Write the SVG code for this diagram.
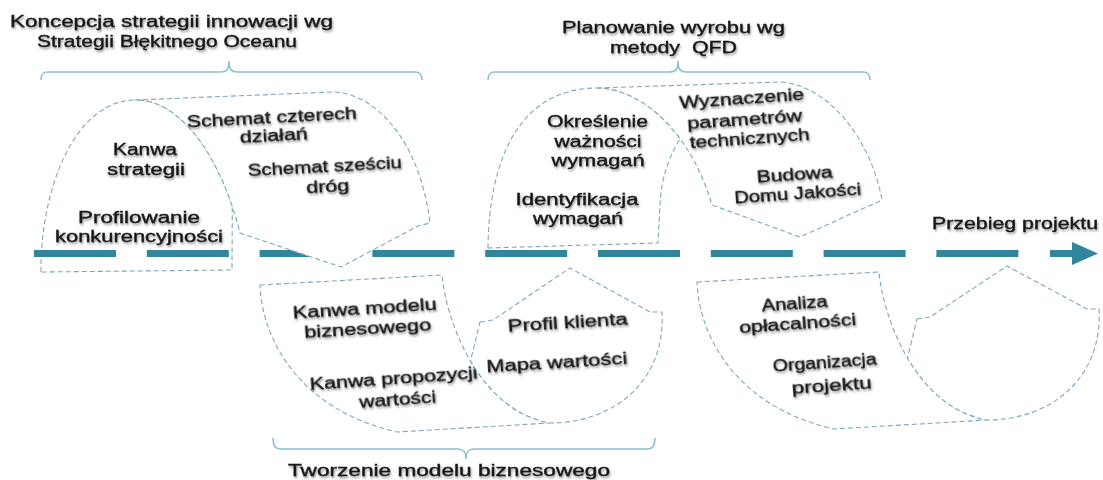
<svg xmlns="http://www.w3.org/2000/svg" width="1103" height="480" viewBox="0 0 1103 480">
<style>
.shape{fill:#fff;stroke:#7ea8ba;stroke-width:1.1;stroke-dasharray:5 3}
.brace{fill:none;stroke:#8cbfd3;stroke-width:1.6}
.axis{fill:none;stroke:#31859c;stroke-width:7;stroke-dasharray:82 30.8}
.head{fill:#31859c}
text{font-family:"Liberation Sans",Arial,sans-serif;font-size:16px;fill:#151515;stroke:#151515;stroke-width:0.35;text-anchor:middle;filter:url(#sh)}
</style>
<defs>
<filter id="sh" x="-10%" y="-40%" width="120%" height="180%">
<feGaussianBlur in="SourceAlpha" stdDeviation="1.2" result="b"/>
<feOffset in="b" dx="1" dy="1.5" result="o"/>
<feFlood flood-color="#000" flood-opacity="0.4"/>
<feComposite in2="o" operator="in" result="s"/>
<feMerge><feMergeNode in="s"/><feMergeNode in="SourceGraphic"/></feMerge>
</filter>
</defs>
<rect width="1103" height="480" fill="#fff"/>

<g id="phase-blue-ocean">
<path class="brace" d="M41,80 C41,74 43,72 48,72 L221,72 C226,72 229,70 229,61 C229,70 232,72 237,72 L415,72 C420,72 422,74 422,80"/>
<text x="171.5" y="27" textLength="323" lengthAdjust="spacingAndGlyphs">Koncepcja strategii innowacji wg</text>
<text x="167" y="47" textLength="260" lengthAdjust="spacingAndGlyphs">Strategii Błękitnego Oceanu</text>
</g>
<g id="phase-qfd">
<path class="brace" d="M488,80 C488,74 490,72 495,72 L670,72 C675,72 678,70 678,61 C678,70 681,72 686,72 L863,72 C868,72 870,74 870,80"/>
<text x="673.5" y="33" textLength="223" lengthAdjust="spacingAndGlyphs">Planowanie wyrobu wg</text>
<text x="673.5" y="53" textLength="127" lengthAdjust="spacingAndGlyphs" xml:space="preserve">metody  QFD</text>
</g>
<g id="phase-business-model">
<path class="brace" d="M273,438 C273,445 275,449 280,449 L458,449 C463,449 466,451 466,459 C466,451 469,449 474,449 L648,449 C653,449 655,445 655,438"/>
<text x="449" y="476" textLength="322" lengthAdjust="spacingAndGlyphs">Tworzenie modelu biznesowego</text>
</g>

<g id="kanwa-strategii">
<path class="shape" d="M41,272 C40,195 72,101 135,100 C176.1,99.1 211.9,145.7 232.3,206.3 L232,270 Z"/>
<text x="145" y="155" textLength="64" lengthAdjust="spacingAndGlyphs">Kanwa</text>
<text x="146" y="175" textLength="78" lengthAdjust="spacingAndGlyphs">strategii</text>
<text x="139" y="223" textLength="122" lengthAdjust="spacingAndGlyphs">Profilowanie</text>
<text x="139" y="242" textLength="168" lengthAdjust="spacingAndGlyphs">konkurencyjności</text>
</g>

<g id="okreslenie-wymagan">
<path class="shape" d="M488,248 C489,150 525,88 597,88 C625,88 655.9,105.8 680.1,138.8 C668,158 661,180 660,205 L658,243 Z"/>
<text x="597.5" y="127" textLength="101" lengthAdjust="spacingAndGlyphs">Określenie</text>
<text x="598" y="147" textLength="87" lengthAdjust="spacingAndGlyphs">ważności</text>
<text x="598" y="166" textLength="93" lengthAdjust="spacingAndGlyphs">wymagań</text>
<text x="577" y="205" textLength="123" lengthAdjust="spacingAndGlyphs">Identyfikacja</text>
<text x="578" y="224" textLength="90" lengthAdjust="spacingAndGlyphs">wymagań</text>
</g>
<g id="dom-jakosci">
<path class="shape" d="M597,88 L780,82 C825,84 870,135 882,200 L800,237 L712,205 C690,130 640,88 597,88 Z"/>
<text x="742" y="104" textLength="125" lengthAdjust="spacingAndGlyphs" transform="rotate(-4 742 104)">Wyznaczenie</text>
<text x="745" y="125" textLength="115" lengthAdjust="spacingAndGlyphs" transform="rotate(-4 745 125)">parametrów</text>
<text x="750" y="144" textLength="120" lengthAdjust="spacingAndGlyphs" transform="rotate(-4 750 144)">technicznych</text>
<text x="795" y="180" textLength="76" lengthAdjust="spacingAndGlyphs" transform="rotate(-4 795 180)">Budowa</text>
<text x="798" y="199" textLength="127" lengthAdjust="spacingAndGlyphs" transform="rotate(-4 798 199)">Domu Jakości</text>
</g>

<g id="kanwa-modelu">
<path class="shape" d="M260,285 L442,275 C446,320 478,410 550,423 L397,432 C300,410 262,340 260,285 Z"/>
<text x="365" y="314" textLength="144" lengthAdjust="spacingAndGlyphs" transform="rotate(-3.5 365 314)">Kanwa modelu</text>
<text x="368" y="334" textLength="127" lengthAdjust="spacingAndGlyphs" transform="rotate(-3.5 368 334)">biznesowego</text>
<text x="394" y="384" textLength="168" lengthAdjust="spacingAndGlyphs" transform="rotate(-4 394 384)">Kanwa propozycji</text>
<text x="398" y="405" textLength="77" lengthAdjust="spacingAndGlyphs" transform="rotate(-4 398 405)">wartości</text>
</g>
<g id="profil-klienta">
<path class="shape" d="M480,322 L493,320 L570,268 L650,312 L662,312 C666,380 615,423 550,423 C514,416.5 488,390.75 470.5,361 Z"/>
<text x="568" y="328" textLength="120" lengthAdjust="spacingAndGlyphs" transform="rotate(-3.5 568 328)">Profil klienta</text>
<text x="557" y="368" textLength="141" lengthAdjust="spacingAndGlyphs" transform="rotate(-3.5 557 368)">Mapa wartości</text>
</g>

<g id="analiza-oplacalnosci">
<path class="shape" d="M697,282 L879,272 C883,317 915,407 987,420 L834,429 C737,407 699,337 697,282 Z"/>
<text x="795" y="309" textLength="66" lengthAdjust="spacingAndGlyphs" transform="rotate(-4 795 309)">Analiza</text>
<text x="798" y="329" textLength="117" lengthAdjust="spacingAndGlyphs" transform="rotate(-4 798 329)">opłacalności</text>
<text x="825" y="368" textLength="104" lengthAdjust="spacingAndGlyphs" transform="rotate(-4 825 368)">Organizacja</text>
<text x="832" y="391" textLength="80" lengthAdjust="spacingAndGlyphs" transform="rotate(-4 832 391)">projektu</text>
</g>
<g id="organizacja-projektu">
<path class="shape" d="M917,319 L930,317 L1007,266 L1087,309 L1099,309 C1103,377 1052,420 987,420 C951,413.5 925,387.75 907.5,358 Z"/>
</g>

<g id="connectors">
<line class="axis" x1="34" y1="253.5" x2="1020" y2="253.5"/>
<line x1="1050" y1="253.5" x2="1074" y2="253.5" stroke="#31859c" stroke-width="7"/>
<polygon class="head" points="1072,242 1098,253.5 1072,265"/>
<text x="1015" y="229" textLength="166" lengthAdjust="spacingAndGlyphs">Przebieg projektu</text>
</g>

<g id="schemat-dzialan">
<path class="shape" d="M135,100 L333,92 C375,93 420,140 430,223 L418,226 L341,267 L240,233 C222,160 182,99 135,100 Z"/>
<text x="272" y="123" textLength="170" lengthAdjust="spacingAndGlyphs" transform="rotate(-3 272 123)">Schemat czterech</text>
<text x="274" y="141" textLength="68" lengthAdjust="spacingAndGlyphs" transform="rotate(-3 274 141)">działań</text>
<text x="325" y="172" textLength="154" lengthAdjust="spacingAndGlyphs" transform="rotate(-3 325 172)">Schemat sześciu</text>
<text x="328" y="192" textLength="43" lengthAdjust="spacingAndGlyphs" transform="rotate(-3 328 192)">dróg</text>
</g>
</svg>
